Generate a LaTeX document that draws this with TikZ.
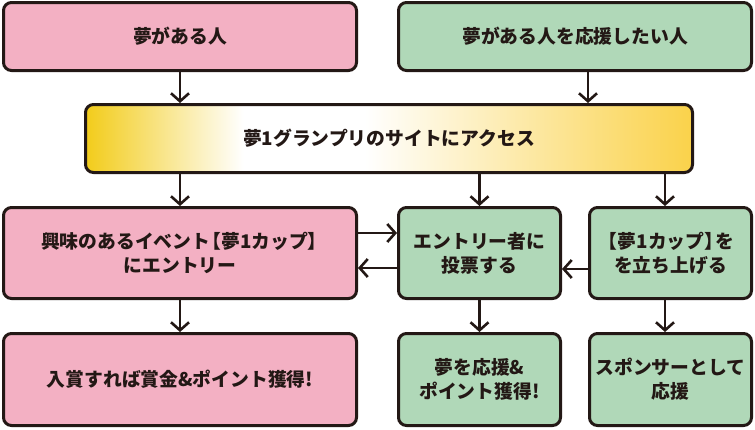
\documentclass[tikz,border=0pt]{standalone}
\usepackage{fontspec}
\newfontfamily\jp{Noto Sans CJK JP}
\usetikzlibrary{arrows.meta,calc}
\definecolor{ink}{HTML}{231815}
\definecolor{pinkf}{HTML}{F3B0C3}
\definecolor{greenf}{HTML}{B0D8B8}
\definecolor{goldL}{HTML}{F2CC1A}
\definecolor{goldR}{HTML}{FAD24A}
\newcommand{\lbr}{\kern-0.42em【}
\newcommand{\rbr}{】\kern-0.42em}
\pgfdeclarehorizontalshading{goldshade}{100bp}{color(0bp)=(goldL); color(25bp)=(goldL); color(38bp)=(white); color(48bp)=(white); color(75bp)=(goldR); color(100bp)=(goldR)}
\tikzset{
  box/.style={draw=ink, line width=3pt, rounded corners=8pt, align=center, text=ink,
    font=\jp\bfseries\fontsize{18.8}{24}\selectfont, inner sep=0pt},
  pinkbox/.style={box, fill=pinkf},
  greenbox/.style={box, fill=greenf},
  goldbox/.style={box, shading=goldshade},
  arr/.style={draw=ink, line width=2.6pt, -{Straight Barb[length=8pt,width=18pt,line width=2.6pt]}},
}
\begin{document}
\begin{tikzpicture}[x=1pt,y=-1pt]
\useasboundingbox (0,0) rectangle (755,429);
\node[pinkbox, minimum width=353pt, minimum height=68pt] (A) at (180,36.5) {夢がある人};
\node[greenbox, minimum width=353pt, minimum height=68pt] (B) at (575,36.5) {夢がある人を応援したい人};
\node[goldbox, minimum width=607pt, minimum height=68pt] (G) at (389,138.5) {夢1グランプリのサイトにアクセス};
\node[pinkbox, minimum width=353pt, minimum height=91pt] (C) at (180,253) {興味のあるイベント\lbr 夢1カップ\rbr\\にエントリー};
\node[greenbox, minimum width=162pt, minimum height=91pt] (D) at (479.5,253) {エントリー者に\\投票する};
\node[greenbox, minimum width=162pt, minimum height=91pt] (E) at (670.5,253) {\lbr 夢1カップ\rbr を\\を立ち上げる};
\node[pinkbox, minimum width=353pt, minimum height=92pt] (F) at (180,379.5) {入賞すれば賞金\&ポイント獲得!};
\node[greenbox, minimum width=162pt, minimum height=92pt] (H) at (479.5,379.5) {夢を応援\&\\ポイント獲得!};
\node[greenbox, minimum width=162pt, minimum height=92pt] (I) at (670.5,379.5) {スポンサーとして\\応援};
% vertical connectors
\draw[arr] (A.south) -- (A.south |- G.north);
\draw[arr] ([xshift=13pt]B.south) -- ([xshift=13pt]B.south |- G.north);
\draw[arr] (C.north |- G.south) -- (C.north);
\draw[arr] (D.north |- G.south) -- (D.north);
\draw[arr] ([xshift=-5.5pt]E.north |- G.south) -- ([xshift=-5.5pt]E.north);
\draw[arr] (C.south) -- (F.north);
\draw[arr] (D.south) -- (H.north);
\draw[arr] ([xshift=-5.5pt]E.south) -- ([xshift=-5.5pt]I.north);
% horizontal connectors
\draw[arr] ([yshift=20pt]C.east) -- ([yshift=20pt]C.east -| D.west);
\draw[arr] ([yshift=-15pt]D.west) -- ([yshift=-15pt]D.west -| C.east);
\draw[arr] ([yshift=-16pt]E.west) -- ([yshift=-16pt]E.west -| D.east);
\end{tikzpicture}
\end{document}
